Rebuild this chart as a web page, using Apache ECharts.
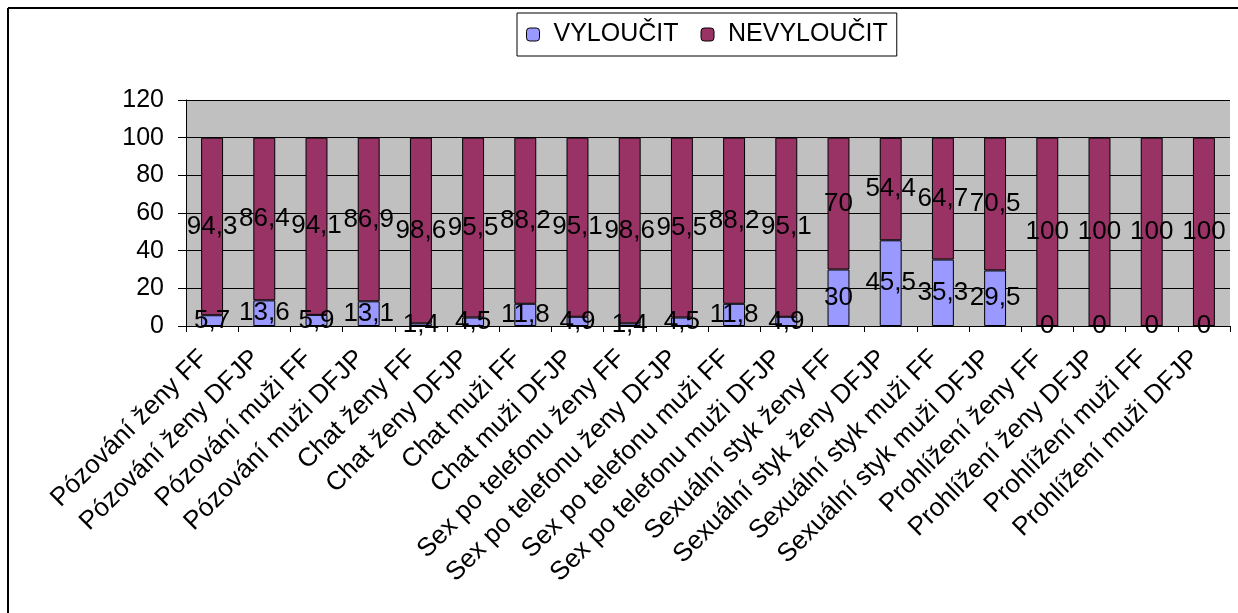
<!DOCTYPE html>
<html>
<head>
<meta charset="utf-8">
<script src="https://cdn.jsdelivr.net/npm/echarts@6/dist/echarts.min.js"></script>
<style>
  html, body { margin: 0; padding: 0; background: #fff; }
  #chart { width: 1238px; height: 613px; }
</style>
</head>
<body>
<div id="chart"></div>
<script>
const categories = [
  'Pózování ženy FF', 'Pózování ženy DFJP', 'Pózování muži FF', 'Pózování muži DFJP',
  'Chat ženy FF', 'Chat ženy DFJP', 'Chat muži FF', 'Chat muži DFJP',
  'Sex po telefonu ženy FF', 'Sex po telefonu ženy DFJP', 'Sex po telefonu muži FF', 'Sex po telefonu muži DFJP',
  'Sexuální styk ženy FF', 'Sexuální styk ženy DFJP', 'Sexuální styk muži FF', 'Sexuální styk muži DFJP',
  'Prohlížení ženy FF', 'Prohlížení ženy DFJP', 'Prohlížení muži FF', 'Prohlížení muži DFJP'
];
const vyloucit = [5.7, 13.6, 5.9, 13.1, 1.4, 4.5, 11.8, 4.9, 1.4, 4.5, 11.8, 4.9, 30, 45.5, 35.3, 29.5, 0, 0, 0, 0];
const nevyloucit = [94.3, 86.4, 94.1, 86.9, 98.6, 95.5, 88.2, 95.1, 98.6, 95.5, 88.2, 95.1, 70, 54.4, 64.7, 70.5, 100, 100, 100, 100];
const yTicks = [0, 20, 40, 60, 80, 100, 120];

const font = 'Liberation Sans, Arial, sans-serif';
// czech decimal comma
const fmt = p => String(p.value).replace('.', ',');

const myChart = echarts.init(document.getElementById('chart'));
myChart.setOption({
  animation: false,
  textStyle: { fontFamily: font },
  graphic: [
    { type: 'line', shape: { x1: 8, y1: 8, x2: 1238, y2: 8 }, style: { stroke: '#000', lineWidth: 2 } },
    { type: 'line', shape: { x1: 8, y1: 8, x2: 8, y2: 613 }, style: { stroke: '#000', lineWidth: 2 } }
  ],
  legend: {
    top: 13,
    left: 517,
    itemWidth: 13,
    itemHeight: 13,
    itemGap: 22,
    padding: [9, 9, 9, 9],
    borderColor: '#000',
    borderWidth: 1,
    backgroundColor: '#fff',
    textStyle: { fontSize: 25, color: '#000', fontFamily: font, padding: [0, 0, 0, 9] },
    data: [
      { name: 'VYLOUČIT', itemStyle: { borderColor: '#000', borderWidth: 1 } },
      { name: 'NEVYLOUČIT', itemStyle: { borderColor: '#000', borderWidth: 1 } }
    ]
  },
  grid: { left: 186, right: 8, top: 100, bottom: 287, show: true, backgroundColor: '#C0C0C0', borderWidth: 0 },
  xAxis: {
    type: 'category',
    data: categories,
    axisLine: { lineStyle: { color: '#000' } },
    axisTick: { show: true, length: 6, lineStyle: { color: '#000' } },
    axisLabel: { rotate: 45, fontSize: 26, color: '#000', margin: 20, interval: 0, padding: [0, 12, 0, 0] }
  },
  yAxis: {
    type: 'value',
    min: yTicks[0],
    max: yTicks[yTicks.length - 1],
    interval: 20,
    axisLine: { show: true, lineStyle: { color: '#000' } },
    axisTick: { show: true, length: 8, lineStyle: { color: '#000' } },
    axisLabel: { fontSize: 25, color: '#000', margin: 22 },
    splitLine: { lineStyle: { color: '#000', width: 1 } }
  },
  series: [
    {
      name: 'VYLOUČIT',
      type: 'bar',
      stack: 'a',
      barWidth: '42%',
      data: vyloucit,
      itemStyle: { color: '#9999FF', borderColor: '#000', borderWidth: 1 },
      label: { show: true, position: 'inside', fontSize: 26, color: '#000', formatter: fmt }
    },
    {
      name: 'NEVYLOUČIT',
      type: 'bar',
      stack: 'a',
      barWidth: '42%',
      data: nevyloucit,
      itemStyle: { color: '#993366', borderColor: '#000', borderWidth: 1 },
      label: { show: true, position: 'inside', fontSize: 26, color: '#000', formatter: fmt }
    }
  ]
});
</script>
</body>
</html>
